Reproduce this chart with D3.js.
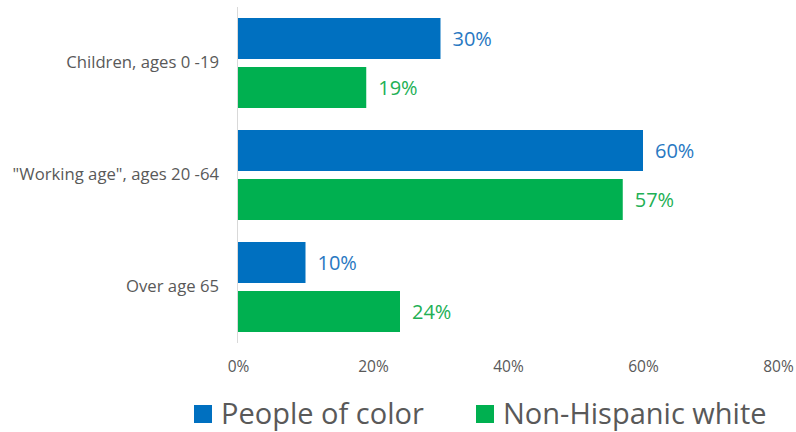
<!DOCTYPE html>
<html>
<head>
<meta charset="utf-8">
<script src="https://cdn.jsdelivr.net/npm/d3@7"></script>
<style>
  body { margin: 0; background: #fff; }
  svg { display: block; font-family: "Open Sans", sans-serif; }
</style>
</head>
<body>
<script>
// grouped horizontal bars, age shares by race

const categories = ["Children, ages 0 -19", "\"Working age\", ages 20 -64", "Over age 65"];
const seriesNames = ["People of color", "Non-Hispanic white"];
const peopleOfColor = [0.30, 0.60, 0.10];
const nonHispanicWhite = [0.19, 0.57, 0.24];
const xTickValues = [0, 0.2, 0.4, 0.6, 0.8];

const colors = ["#0070C0", "#00B050"];
const labelColors = ["#2878C2", "#22B055"];

const rows = categories.map((c, i) => ({
  category: c,
  values: [
    { series: seriesNames[0], value: peopleOfColor[i] },
    { series: seriesNames[1], value: nonHispanicWhite[i] }
  ]
}));

const width = 796;
const height = 432;
const fontFamily = '"Open Sans", sans-serif';

const svg = d3.select('body').append('svg')
  .attr('width', width)
  .attr('height', height);

const xScale = d3.scaleLinear()
  .domain([0, 0.8])
  .range([238, 778]);

const yScale = d3.scaleBand()
  .domain(categories)
  .range([7, 343])
  .paddingInner(22 / 112)
  .paddingOuter(11 / 112);

const innerScale = d3.scaleBand()
  .domain(seriesNames)
  .range([0, yScale.bandwidth()])
  .paddingInner(8 / 49);

const colorScale = d3.scaleOrdinal().domain(seriesNames).range(colors);
const labelScale = d3.scaleOrdinal().domain(seriesNames).range(labelColors);

// x axis (labels only)
const xAxis = d3.axisBottom(xScale)
  .tickValues(xTickValues)
  .tickFormat(d3.format('.0%'))
  .tickSize(0)
  .tickPadding(0);

const gx = svg.append('g')
  .attr('transform', 'translate(0,367)')
  .call(xAxis)
  .attr('font-family', fontFamily);
gx.select('.domain').remove();
gx.selectAll('text')
  .attr('fill', '#595959')
  .attr('font-size', '15.5px')
  .attr('dy', '0.35em');

// bars
const groups = svg.selectAll('g.group')
  .data(rows)
  .enter()
  .append('g')
  .attr('class', 'group')
  .attr('transform', d => `translate(0,${yScale(d.category)})`);

groups.selectAll('rect')
  .data(d => d.values)
  .enter()
  .append('rect')
  .attr('x', xScale(0))
  .attr('y', d => innerScale(d.series))
  .attr('width', d => xScale(d.value) - xScale(0))
  .attr('height', innerScale.bandwidth())
  .attr('fill', d => colorScale(d.series));

groups.selectAll('text.val')
  .data(d => d.values)
  .enter()
  .append('text')
  .attr('class', 'val')
  .text(d => d3.format('.0%')(d.value))
  .attr('x', d => xScale(d.value) + 12)
  .attr('y', d => innerScale(d.series) + innerScale.bandwidth() / 2)
  .attr('dy', '0.35em')
  .attr('font-size', '20px')
  .attr('fill', d => labelScale(d.series));

// y axis
const yAxis = d3.axisLeft(yScale).tickSize(0).tickPadding(19);
const gy = svg.append('g')
  .attr('transform', `translate(${xScale(0)},0)`)
  .call(yAxis)
  .attr('font-family', fontFamily);
gy.select('.domain').remove();
gy.selectAll('text')
  .attr('fill', '#595959')
  .attr('font-size', '16.7px');

svg.append('line')
  .attr('x1', xScale(0) - 0.5)
  .attr('x2', xScale(0) - 0.5)
  .attr('y1', 7)
  .attr('y2', 343)
  .attr('stroke', '#D9D9D9')
  .attr('stroke-width', 1);

// legend
const legend = svg.append('g').attr('transform', 'translate(0,414)');
const legendX = [194, 476];
const items = legend.selectAll('g')
  .data(seriesNames)
  .enter()
  .append('g')
  .attr('transform', (d, i) => `translate(${legendX[i]},0)`);
items.append('rect')
  .attr('x', 0)
  .attr('y', -9)
  .attr('width', 18)
  .attr('height', 18)
  .attr('fill', d => colorScale(d));
items.append('text')
  .text(d => d)
  .attr('x', 27)
  .attr('y', 0)
  .attr('dy', '0.35em')
  .attr('font-size', '29px')
  .attr('fill', '#595959');
</script>
</body>
</html>
